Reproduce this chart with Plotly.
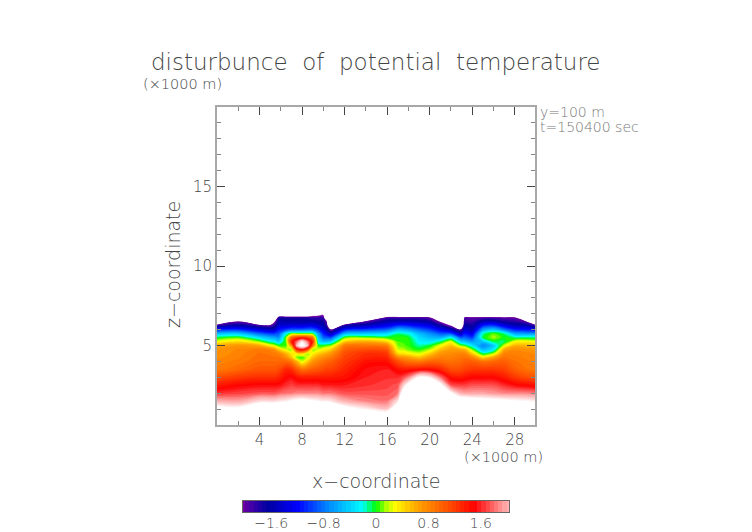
import numpy as np
import plotly.graph_objects as go

# x columns (x1000 m) and z levels (x1000 m) of the section
x_km = [0, 2, 4, 5, 5.4, 5.8, 6.5, 7, 7.5, 8, 8.5, 9, 9.5, 10, 10.3, 10.7, 12, 14, 16, 17, 17.6, 18, 19, 20,
        21, 22, 22.9, 23.3, 24, 25, 26, 27, 28, 29, 30]
z_km = [0.5, 1, 1.5, 2, 2.5, 3, 3.5, 4, 4.25, 4.5, 4.75, 5, 5.25, 5.5, 5.75, 6, 6.25, 6.5, 6.75, 7, 7.5]

# one vertical profile per x column, values above +2 / below -2 fall off the colour bar (white)
profiles = [
    [3, 2.55, 2, 1.6, 1.35, 1.1, .85, .8, .75, .72, .7, .6, .25, -.05, -.5, -1.1, -1.8, -3, -3, -3, -3],
    [3, 2.45, 1.95, 1.65, 1.45, 1.2, .95, .85, .82, .8, .78, .7, .4, .05, -.45, -1.05, -1.6, -2.0, -3, -3, -3],
    [3, 2.9, 2.2, 1.7, 1.5, 1.25, 1.05, .95, .92, .9, .85, .6, .1, -.35, -.85, -1.35, -1.85, -3, -3, -3, -3],
    [3, 2.9, 2.2, 1.7, 1.5, 1.25, 1.05, .95, .9, .88, .8, .3, -.2, -.55, -1, -1.5, -1.95, -3, -3, -3, -3],
    [3, 2.9, 2.2, 1.7, 1.5, 1.25, 1.05, .95, .9, .85, .7, .2, -.25, -.6, -1, -1.45, -1.8, -2.1, -3, -3, -3],
    [3, 2.9, 2.25, 1.75, 1.5, 1.3, 1.1, .95, .9, .8, .45, 0, -.4, -.7, -.9, -1.15, -1.4, -1.6, -1.75, -3, -3],
    [3, 3, 2.3, 1.8, 1.6, 1.45, 1.3, .95, .75, .55, .2, .03, .08, .1, -.25, -1, -1.4, -1.6, -1.75, -3, -3],
    [3, 3, 2.4, 1.8, 1.65, 1.5, 1.25, .85, .5, .35, .1, .75, 1.35, .95, .05, -.9, -1.35, -1.6, -1.75, -3, -3],
    [3, 3, 2.45, 1.85, 1.6, 1.4, 1.05, .55, .08, .35, 1.3, 2.05, 1.75, 1.2, .05, -.9, -1.35, -1.6, -1.75, -3, -3],
    [3, 3, 2.5, 1.85, 1.6, 1.35, .9, .2, .02, .45, 1.5, 2.5, 2.3, 1.3, .05, -.9, -1.35, -1.6, -1.75, -3, -3],
    [3, 3, 2.45, 1.85, 1.6, 1.35, .95, .45, .2, .12, 1.1, 2.1, 1.8, 1.2, .05, -.85, -1.3, -1.6, -1.75, -3, -3],
    [3, 2.95, 2.4, 1.85, 1.6, 1.35, 1, .7, .5, .3, .1, .9, 1.3, .9, 0, -.85, -1.3, -1.6, -1.85, -2.4, -3],
    [3, 2.95, 2.35, 1.85, 1.6, 1.35, 1.05, .8, .65, .45, .2, .02, -.3, -.4, -.6, -1.05, -1.4, -1.65, -1.85, -2.3, -3],
    [3, 2.95, 2.3, 1.8, 1.55, 1.35, 1.1, .9, .75, .55, .3, 0, -.5, -.85, -1.1, -1.35, -1.55, -1.7, -1.85, -2.2, -3],
    [3, 2.9, 2.3, 1.8, 1.55, 1.35, 1.15, .95, .8, .6, .35, .05, -.5, -.9, -1.25, -1.55, -1.8, -2.0, -3, -3, -3],
    [3, 2.85, 2.25, 1.8, 1.55, 1.35, 1.15, 1, .85, .7, .45, .1, -.4, -.95, -1.5, -2.05, -3, -3, -3, -3, -3],
    [3, 2.55, 2, 1.7, 1.55, 1.4, 1.3, 1.2, 1.15, 1.1, 1, .85, .45, .05, -.55, -1.15, -1.75, -3, -3, -3, -3],
    [3, 2.3, 1.85, 1.7, 1.6, 1.55, 1.5, 1.4, 1.3, 1.25, 1.1, .9, .6, .1, -.45, -1, -1.5, -1.95, -3, -3, -3],
    [2.9, 2.1, 1.8, 1.7, 1.65, 1.6, 1.55, 1.4, 1.3, 1.2, 1.05, .8, .4, 0, -.35, -.85, -1.25, -1.55, -1.9, -3, -3],
    [3, 2.8, 2.25, 1.8, 1.7, 1.6, 1.4, 1.1, .8, .4, .2, .1, .05, .02, -.1, -.55, -1.05, -1.5, -1.9, -3, -3],
    [3, 3, 3, 2.8, 2.2, 1.7, 1.35, .95, .7, .35, .15, .06, .04, .03, -.15, -.6, -1.05, -1.5, -1.9, -3, -3],
    [3, 3, 3, 3, 2.5, 1.85, 1.35, .9, .65, .3, .08, .03, .02, -.02, -.2, -.65, -1.1, -1.5, -1.9, -3, -3],
    [3, 3, 3, 3, 3, 2.4, 1.4, .85, .5, .2, 0, -.15, -.25, -.35, -.5, -.85, -1.2, -1.55, -1.9, -3, -3],
    [3, 3, 3, 3, 3, 2.3, 1.4, .95, .7, .45, .15, -.05, -.3, -.5, -.7, -1, -1.3, -1.65, -2, -3, -3],
    [3, 3, 3, 3, 2.5, 1.8, 1.3, .95, .82, .7, .5, .25, -.1, -.55, -.9, -1.25, -1.65, -2.1, -3, -3, -3],
    [3, 3, 3, 2.4, 1.7, 1.4, 1.1, .9, .82, .75, .65, .5, .25, -.25, -.95, -1.5, -2.1, -3, -3, -3, -3],
    [3, 3, 2.7, 2, 1.65, 1.35, 1.1, .95, .88, .8, .6, .1, -.4, -.9, -1.45, -2.05, -3, -3, -3, -3, -3],
    [3, 3, 2.7, 1.95, 1.65, 1.4, 1.15, 1, .9, .8, .55, 0, -.5, -.85, -1.15, -1.4, -1.6, -1.8, -1.95, -3, -3],
    [3, 3, 2.6, 1.95, 1.7, 1.45, 1.2, 1, .8, .45, .1, -.3, -.65, -1, -1.3, -1.55, -1.7, -1.85, -1.97, -3, -3],
    [3, 3, 2.55, 1.95, 1.7, 1.45, 1.2, .9, .4, -.1, -.5, -.75, -.45, -.05, -.15, -.65, -1.1, -1.55, -1.95, -3, -3],
    [3, 3, 2.5, 1.9, 1.7, 1.45, 1.2, .95, .65, .15, -.3, -.45, -.05, .15, .08, -.45, -1, -1.5, -1.95, -3, -3],
    [3, 3, 2.45, 1.85, 1.6, 1.35, 1.15, 1, .9, .8, .6, .2, -.1, 0, -.1, -.8, -1.3, -1.7, -1.98, -3, -3],
    [3, 2.95, 2.4, 1.85, 1.5, 1.2, 1, .9, .85, .82, .75, .55, .25, -.1, -.6, -1.1, -1.5, -1.8, -2, -3, -3],
    [3, 2.9, 2.35, 1.85, 1.45, 1.1, .9, .85, .82, .8, .72, .55, .3, -.1, -.65, -1.15, -1.55, -1.95, -3, -3, -3],
    [3, 2.8, 2.3, 1.8, 1.4, 1.05, .85, .8, .78, .75, .68, .5, .25, -.1, -.7, -1.25, -1.9, -3, -3, -3, -3],
]
theta = np.array(profiles).T

# colour table, white outside the bar
scale_values = [-3, -2.1, -2.08, -1.85, -1.65, -1.2, -0.7, -0.2, 0.0, 0.16, 0.28, 0.63, 1.1, 1.5, 1.95, 2.4, 3]
scale_colors = ['#ffffff', '#ffffff', '#8000a0', '#3000a8', '#0000a0', '#0000ff', '#0090ff', '#00ffff', '#00ff00',
                '#b0ff00', '#ffff00', '#ffa500', '#ff5000', '#ff0000', '#ffa0a0', '#ffffff', '#ffffff']
colorscale = [[(v + 3) / 6, c] for v, c in zip(scale_values, scale_colors)]

bar_levels = np.linspace(-2.03, 2.03, 64)
bar_ticks = [-1.6, -0.8, 0, 0.8, 1.6]
bar_labels = ['\u22121.6', '\u22120.8', '0', '0.8', '1.6']

# the page puts 8 px of body margin around the figure
PAD = 8
W, H = 752 - PAD, 532 - PAD
FONT = 'DejaVu Sans ExtraLight, DejaVu Sans'
GREY = '#444444'


def px_x(p):
    return (p - PAD) / W


def px_y(p):
    return 1 - (p - PAD) / H


fig = go.Figure()
fig.add_trace(go.Contour(
    x=x_km, y=z_km, z=theta, colorscale=colorscale, zmin=-3, zmax=3, showscale=False,
    contours=dict(coloring='fill', start=-2.95, end=2.95, size=0.06, showlines=False),
    line=dict(width=0, smoothing=1.0), hoverinfo='skip'))
fig.add_trace(go.Heatmap(
    x=bar_levels, y=[0, 1], z=[bar_levels, bar_levels], colorscale=colorscale, zmin=-3, zmax=3,
    showscale=False, xaxis='x2', yaxis='y2', hoverinfo='skip'))

frame = dict(showgrid=False, zeroline=False, showline=True, linecolor='#a8a8a8', linewidth=2,
             mirror='ticks', ticks='inside', ticklen=8, tickwidth=1, tickcolor='#444444',
             tickfont=dict(family=FONT, size=15, color=GREY, weight=200))
fig.update_layout(
    width=W, height=H, margin=dict(l=0, r=0, t=0, b=0), autosize=False,
    paper_bgcolor='white', plot_bgcolor='white', showlegend=False,
    xaxis=dict(frame, domain=[px_x(217), px_x(535)], range=[0, 29.9], tickvals=[4, 8, 12, 16, 20, 24, 28],
               minor=dict(ticks='inside', ticklen=4, tick0=0, dtick=2, tickcolor='#888888', tickwidth=1)),
    yaxis=dict(frame, domain=[px_y(425), px_y(107)], range=[0, 20], tickvals=[5, 10, 15],
               minor=dict(ticks='inside', ticklen=4, tick0=0, dtick=1, tickcolor='#888888', tickwidth=1)),
    xaxis2=dict(domain=[px_x(243), px_x(509)], range=[-2.03, 2.03], anchor='y2', tickvals=bar_ticks,
                ticktext=bar_labels, showgrid=False, zeroline=False, showline=True, mirror=True,
                linecolor='#666666', linewidth=1, ticks='', ticklabelstandoff=-2,
                tickfont=dict(family=FONT, size=14, color=GREY, weight=200)),
    yaxis2=dict(domain=[px_y(512), px_y(501)], range=[0, 1], anchor='x2', showticklabels=False,
                showgrid=False, zeroline=False, showline=True, mirror=True, linecolor='#666666',
                linewidth=1, ticks=''),
)


def label(text, px, py, size, anchor='left', color=GREY, angle=0):
    fig.add_annotation(text=text, x=px_x(px), y=px_y(py), xref='paper', yref='paper', showarrow=False,
                       xanchor=anchor, yanchor='middle', textangle=angle,
                       font=dict(family=FONT, size=size, color=color, weight=200))


label('disturbunce  of  potential  temperature', 376, 62, 23, 'center')
label('(\u00d71000 m)', 141, 84, 14.5)
label('(\u00d71000 m)', 462, 457, 14.5)
label('y=100 m', 538, 112, 14, color='#777777')
label('t=150400 sec', 538, 127, 14, color='#777777')
label('x\u2212coordinate', 376, 481, 19, 'center')
label('z\u2212coordinate', 173, 265, 19, 'center', angle=-90)

fig.write_html("out.html")
